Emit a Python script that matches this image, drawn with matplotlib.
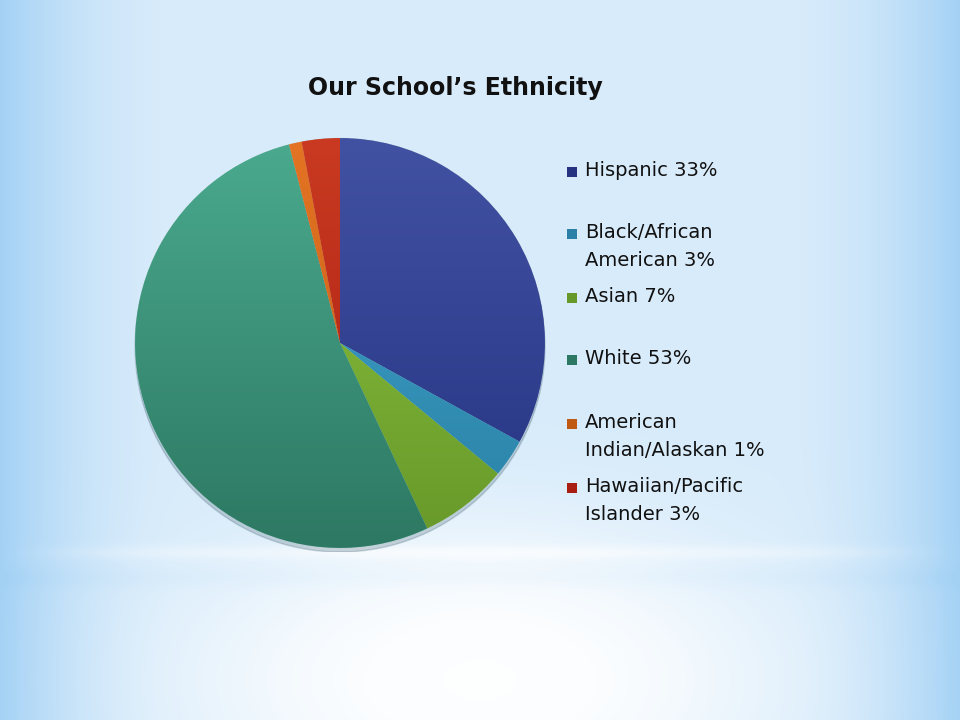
import numpy as np
import matplotlib.pyplot as plt
from matplotlib.colors import LinearSegmentedColormap
from matplotlib.patches import Rectangle, Circle

labels = ['Hispanic 33%', 'Black/African\nAmerican 3%', 'Asian 7%', 'White 53%',
          'American\nIndian/Alaskan 1%', 'Hawaiian/Pacific\nIslander 3%']
values = [33, 3, 7, 53, 1, 3]
top_colors = ['#4252a2', '#41a6cc', '#8ec63e', '#4aaa8e', '#e47424', '#ca3a22']
bottom_colors = ['#253282', '#2a80a6', '#67982a', '#2d7862', '#c05a12', '#a81e10']

W, H = 960, 720
fig = plt.figure(figsize=(W / 100, H / 100), dpi=100)

# background: pale blue, bluer at the sides, white glow at the bottom
bg_ax = fig.add_axes([0, 0, 1, 1], zorder=-10)
yy, xx = np.mgrid[0:H, 0:W]
dx = np.abs(xx - 480) / 480.0
edge = np.clip((dx - 0.6) / 0.4, 0, 1) ** 2
t = 0.42 + 0.58 * edge
glow = np.exp(-(((xx - 480) / 300.0) ** 2 + ((yy - 680) / 160.0) ** 2) ** 1.5)
t = t * (1 - 0.95 * glow)
t = t - 0.12 * np.exp(-((yy - 552) / 7.0) ** 2) * (1 - edge)
t = t + 0.05 * np.exp(-((yy - 578) / 10.0) ** 2)
t = np.clip(t, 0, 1)
blue = np.array([0.64, 0.82, 0.96])
white = np.array([1.0, 1.0, 1.0])
img = white * (1 - t[..., None]) + blue * t[..., None]
bg_ax.imshow(img, extent=(0, W, H, 0), aspect='auto')
bg_ax.set_xlim(0, W)
bg_ax.set_ylim(H, 0)
bg_ax.axis('off')

# pie
cx, cy, r = 340, 343, 209
ax = fig.add_axes([(cx - r) / W, (H - cy - r) / H, 2 * r / W, 2 * r / H])
shadow = Circle((0.0, -0.02), 1.0, color='#406070', alpha=0.25, zorder=0)
ax.add_patch(shadow)
wedges, _ = ax.pie(values, startangle=90, counterclock=False, radius=1,
                   wedgeprops=dict(linewidth=0.4, edgecolor='#b8d0d4'))
grad = np.linspace(0, 1, 256)[:, None] * np.ones((1, 2))
for w, c1, c2 in zip(wedges, top_colors, bottom_colors):
    w.set_facecolor(c1)
    cmap = LinearSegmentedColormap.from_list('g', [c1, c2])
    im = ax.imshow(grad, cmap=cmap, extent=(-1, 1, -1, 1), origin='upper',
                   aspect='auto', zorder=w.get_zorder() + 0.1)
    im.set_clip_path(w)
ax.set_xlim(-1.02, 1.02)
ax.set_ylim(-1.02, 1.02)
ax.set_aspect('equal')
ax.axis('off')

# title
fig.text(455 / W, 1 - 88 / H, 'Our School\u2019s Ethnicity', ha='center', va='center',
         fontsize=17, fontweight='bold', color='#111111')

# legend
leg_y = [172, 234, 298, 360, 424, 488]
for lab, c1, c2, y in zip(labels, top_colors, bottom_colors, leg_y):
    fig.patches.append(Rectangle((567 / W, 1 - (y + 5) / H), 10 / W, 10 / H,
                                 transform=fig.transFigure, facecolor=c2,
                                 edgecolor='none'))
    fig.text(585 / W, 1 - (y - 11) / H, lab, ha='left', va='top', fontsize=14,
             color='#111111', linespacing=1.6)

fig.savefig('out.png', dpi=100)
